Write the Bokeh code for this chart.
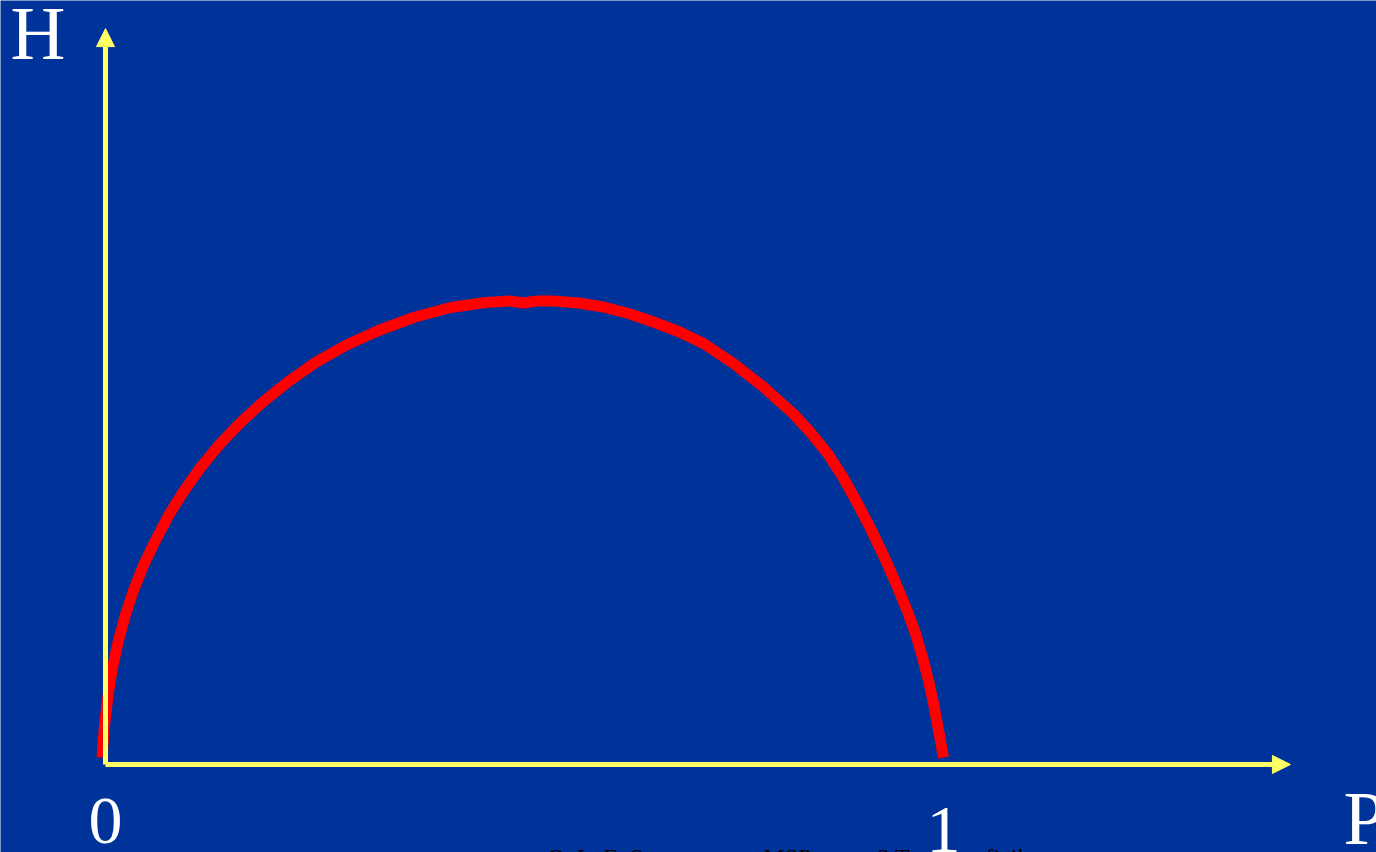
from bokeh.plotting import figure
from bokeh.models import Range1d, Arrow, NormalHead, Label
from bokeh.embed import file_html
from bokeh.resources import INLINE

# Curve H(P)
p_vals = [-0.0042, -0.0012, 0.0030, 0.0084, 0.0155, 0.0239, 0.0334, 0.0453, 0.0597,
          0.0752, 0.0931, 0.1134, 0.1360, 0.1611, 0.1885, 0.2184, 0.2506, 0.2864,
          0.3258, 0.3675, 0.4117, 0.4535, 0.4833, 0.4988, 0.5143, 0.5346, 0.5644,
          0.5943, 0.6241, 0.6539, 0.6838, 0.7136, 0.7494, 0.7852, 0.8210, 0.8413,
          0.8616, 0.8795, 0.8974, 0.9129, 0.9284, 0.9427, 0.9570, 0.9666, 0.9749,
          0.9821, 0.9881, 0.9940, 1.0000]
h_vals = [0.0151, 0.0841, 0.1487, 0.2091, 0.2672, 0.3233, 0.3750, 0.4289, 0.4828,
          0.5366, 0.5884, 0.6401, 0.6897, 0.7371, 0.7823, 0.8254, 0.8664, 0.9030,
          0.9353, 0.9634, 0.9849, 0.9957, 0.9989, 0.9946, 0.9989, 0.9989, 0.9946,
          0.9860, 0.9720, 0.9537, 0.9332, 0.9073, 0.8642, 0.8136, 0.7554, 0.7155,
          0.6703, 0.6207, 0.5625, 0.5086, 0.4504, 0.3922, 0.3297, 0.2823, 0.2317,
          0.1810, 0.1315, 0.0744, 0.0151]

# Axis extents and labels
x_axis_end = 1.414
y_axis_end = 1.586
tick_labels = ["0", "1"]
tick_positions = [0.0, 1.0]
tick_label_y = [-0.1218, -0.1412]
x_name = "P"
y_name = "H"
footer_parts = ["O. L. E. Sunu", "MSP", "3 Temel", "fizik"]
footer_x = [0.5274, 0.7852, 0.9212, 1.0501]

BG = "#003399"
YELLOW = "#FFFF66"

p = figure(width=1376, height=852,
           x_range=Range1d(-0.1253, 1.5167), y_range=Range1d(-0.1897, 1.6466),
           x_axis_type=None, y_axis_type=None,
           output_backend="svg", toolbar_location=None, min_border=0,
           background_fill_color=BG, border_fill_color=BG, outline_line_color=None)
p.grid.visible = False

# axes with arrows
p.add_layout(Arrow(x_start=0, y_start=0, x_end=x_axis_end, y_end=0,
                   line_color=YELLOW, line_width=5,
                   end=NormalHead(size=18, fill_color=YELLOW, line_color=YELLOW, line_width=1)))
p.add_layout(Arrow(x_start=0, y_start=0, x_end=0, y_end=y_axis_end,
                   line_color=YELLOW, line_width=5,
                   end=NormalHead(size=18, fill_color=YELLOW, line_color=YELLOW, line_width=1)))

p.line(p_vals, h_vals, line_color="#FF0000", line_width=11, line_join="round")

font = "Liberation Serif"

# footer text, mostly below the visible page
for t, xv in zip(footer_parts, footer_x):
    p.add_layout(Label(x=xv, y=-0.1985, text=t, text_font=font, text_font_size="24px",
                       text_color="black", text_align="left", text_baseline="alphabetic"))

p.add_layout(Label(x=-0.1134, y=1.5776, text=y_name, text_font=font, text_font_size="76px",
                   text_color="white", text_align="left", text_baseline="alphabetic"))
p.add_layout(Label(x=1.4773, y=-0.1164, text=x_name, text_font=font, text_font_size="76px",
                   text_color="white", text_align="left", text_baseline="alphabetic"))
for xv, t, yv in zip(tick_positions, tick_labels, tick_label_y):
    p.add_layout(Label(x=xv, y=yv, text=t, text_font=font, text_font_size="68px",
                       text_color="white", text_align="center", text_baseline="alphabetic"))

open("out.html", "w").write(file_html(p, INLINE))
